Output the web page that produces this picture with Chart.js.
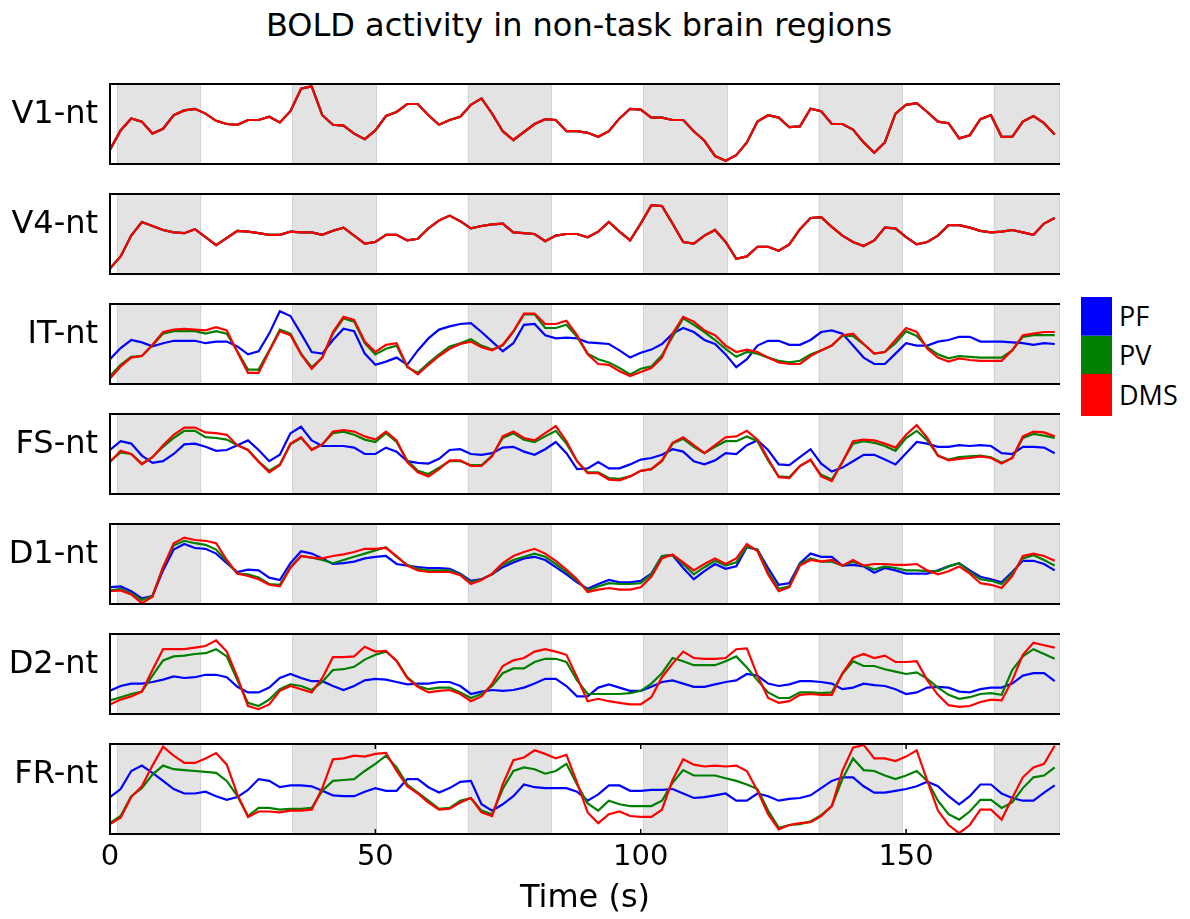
<!DOCTYPE html>
<html>
<head>
<meta charset="utf-8">
<script src="https://cdn.jsdelivr.net/npm/chart.js@4.4.1/dist/chart.umd.min.js"></script>
<style>
  body { margin: 0; background: #fff; }
  #fig { position: relative; width: 1190px; height: 919px; overflow: hidden; font-family: 'DejaVu Sans', sans-serif; color: #000; }
  #fig canvas { position: absolute; left: 0; }
  #title { position: absolute; left: 0; top: 9px; width: 1158px; text-align: center; font-size: 32px; line-height: 32px; }
  .key { position: absolute; left: 1081px; width: 31px; }
  .key-label { position: absolute; left: 1119px; font-family: 'Open Sans', sans-serif; font-size: 27px; }
</style>
</head>
<body>
<div id="fig">
  <div id="title">BOLD activity in non-task brain regions</div>
  <div class="key" style="top:297px;height:38px;background:#0000ff;border-bottom:1px solid #2a4fd0"></div>
  <div class="key" style="top:336px;height:37px;background:#008000;border-bottom:1px solid #1a6a1a"></div>
  <div class="key" style="top:374px;height:42px;background:#ff0000"></div>
  <div class="key-label" style="top:297px;line-height:38px">PF</div>
  <div class="key-label" style="top:336px;line-height:37px">PV</div>
  <div class="key-label" style="top:374px;line-height:42px">DMS</div>
</div>
<script>
// sample times (s), TR = 2 s
const time = [0,2,4,6,8,10,12,14,16,18,20,22,24,26,28,30,32,34,36,38,40,42,44,46,48,50,52,54,56,58,
  60,62,64,66,68,70,72,74,76,78,80,82,84,86,88,90,92,94,96,98,100,102,104,106,108,110,112,114,116,118,
  120,122,124,126,128,130,132,134,136,138,140,142,144,146,148,150,152,154,156,158,160,162,164,166,168,170,172,174,176,178];

// task blocks (shaded)
const bandStarts = [1.3, 34.3, 67.4, 100.4, 133.5, 166.5];
const bandEnds = [17.2, 50.3, 83.3, 116.4, 149.4, 179];

const xTicks = [0, 50, 100, 150];
const regionLabels = ['V1-nt', 'V4-nt', 'IT-nt', 'FS-nt', 'D1-nt', 'D2-nt', 'FR-nt'];
const seriesNames = ['PF', 'PV', 'DMS'];
const seriesColors = ['#0000ff', '#008000', '#ff0000'];

// BOLD traces, arbitrary units (0-100 per panel)
const v1Bold = [18,42,57,53,38,44,61,67,69,63, 54,50,49,55,55,59,52,66,94,97, 61,49,48,38,31,42,60,65,75,75,
  61,49,55,59,74,82,63,41,30,40, 50,56,55,41,41,39,34,41,57,69, 68,58,58,55,55,41,29,10,4,11,
  27,53,61,58,46,47,69,66,50,50, 43,27,14,27,63,74,76,65,53,51, 32,36,56,61,34,34,53,60,51,37];
const v4Bold = [7,22,48,65,60,55,52,51,56,46, 36,45,54,53,51,49,49,53,52,52, 49,54,58,48,38,40,49,49,42,44,
  57,67,73,66,57,60,62,63,52,51, 50,41,48,50,50,46,53,65,53,42, 63,86,85,63,40,38,48,55,40,19,
  22,34,34,29,37,56,70,71,59,48, 40,35,42,58,57,46,37,40,48,61, 61,58,54,52,53,55,52,49,63,70];

const itPf = [31,45,55,52,47,51,54,54,54,51, 53,53,47,37,41,63,91,85,63,40, 38,55,69,66,38,24,28,33,24,42,
  57,68,72,75,76,65,53,41,51,74, 75,61,57,58,57,52,51,50,42,33, 39,43,50,63,70,65,55,50,37,21,
  31,48,54,54,49,49,55,65,67,63, 48,33,25,25,38,51,48,48,53,55, 59,59,53,53,53,52,51,49,51,50];
const itPv = [10,24,34,35,48,63,66,66,66,63, 66,63,41,18,18,42,68,63,38,21, 33,63,82,78,51,37,44,48,21,14,
  26,37,47,51,56,48,43,48,65,87, 87,70,70,74,59,38,31,27,20,12, 19,22,36,59,82,74,65,55,44,34,
  40,38,33,29,27,29,37,42,48,60, 60,50,38,40,51,66,60,46,37,32, 35,34,33,33,33,42,59,61,61,61];
const itDms = [7,22,33,35,49,65,68,69,68,67, 71,67,40,14,14,41,66,61,37,19, 33,65,84,80,53,40,49,51,22,12,
  24,35,44,50,53,46,42,49,66,88, 88,75,75,79,61,37,25,24,16,10, 15,20,33,63,84,78,67,61,48,40,
  43,40,33,27,25,25,35,42,48,61, 63,50,38,40,55,70,65,44,33,28, 32,30,29,29,29,42,61,63,65,65];

const fsPf = [55,66,63,48,39,41,50,62,63,59, 54,55,61,67,55,41,49,76,84,67, 60,60,60,58,50,50,58,53,41,39,
  38,44,55,56,50,49,51,58,59,53, 49,56,65,51,31,32,40,32,32,37, 43,45,49,56,53,41,37,42,51,50,
  61,67,55,37,36,46,56,38,28,33, 41,49,49,43,37,51,65,63,59,59, 61,60,61,60,51,50,59,59,58,51];
const fsPv = [41,52,50,38,46,59,70,79,79,71, 70,68,61,55,41,29,37,62,70,56, 62,76,78,74,68,65,76,65,42,29,
  25,33,41,41,36,36,48,70,76,68, 65,72,79,63,41,27,27,20,19,22, 29,31,41,63,69,59,51,59,66,66,
  72,66,42,22,21,35,42,24,18,40, 63,66,64,60,54,70,79,67,48,43, 46,47,48,46,39,45,70,75,73,70];
const fsDms = [40,54,50,37,46,61,74,83,83,77, 76,74,61,55,40,27,36,63,71,55, 62,78,80,78,72,68,78,67,40,27,
  22,31,42,42,35,35,47,72,78,70, 67,76,85,66,41,26,26,18,17,22, 29,31,42,64,71,61,51,61,71,72,
  79,68,44,21,20,35,43,22,16,40, 66,68,67,63,58,74,86,70,48,42, 44,45,47,45,38,45,72,78,77,72];

const d1Pf = [21,22,16,7,10,42,68,75,70,69, 63,51,40,43,42,33,30,51,66,63, 57,50,51,53,57,59,60,50,48,46,
  45,45,44,38,29,31,37,46,52,57, 59,55,46,37,27,19,25,30,27,27, 29,38,60,61,45,31,41,50,44,47,
  71,68,45,24,26,51,63,59,59,48, 49,47,39,45,42,38,38,38,42,47, 51,42,34,31,27,40,54,54,50,42];
const d1Pv = [17,19,13,5,10,46,73,79,76,74, 68,53,38,37,33,25,24,46,60,58, 55,51,55,59,63,67,71,59,49,44,
  42,42,42,37,27,31,37,49,55,59, 63,59,50,40,29,17,22,26,25,25, 26,37,60,61,50,37,46,54,48,52,
  72,68,40,19,22,50,57,53,53,48, 53,48,43,47,45,42,42,41,41,47, 51,40,31,29,25,38,57,61,55,48];
const d1Dms = [16,17,12,1,9,46,76,83,80,79, 76,55,38,35,31,24,22,45,60,58, 57,60,62,65,69,69,70,60,48,42,
  40,40,40,36,25,30,38,51,60,65, 69,63,54,43,31,15,18,20,18,18, 21,34,57,62,52,42,50,57,50,57,
  75,66,37,16,21,48,55,53,55,48, 55,48,50,50,49,49,50,42,37,41, 47,38,26,24,20,35,60,63,60,54];

const d2Pf = [29,35,38,38,40,43,47,45,46,49, 49,46,34,27,27,33,45,50,45,41, 41,35,30,35,42,44,43,40,37,38,
  38,40,40,35,25,28,30,29,30,33, 38,44,44,35,22,22,33,37,33,29, 29,34,40,42,38,34,34,37,40,42,
  50,48,38,35,37,41,41,40,38,31, 33,38,36,35,31,25,27,33,34,33, 28,27,31,33,33,38,48,51,51,41];
const d2Pv = [17,21,25,28,48,67,72,73,75,76, 81,72,42,14,10,18,31,37,35,30, 40,55,56,59,68,74,78,67,46,35,
  31,33,33,27,20,25,35,51,57,57, 65,69,69,65,42,25,25,25,25,26, 29,38,51,70,66,61,61,61,66,72,
  58,42,27,20,20,27,27,26,27,50, 66,60,60,56,53,50,52,44,33,24, 19,21,25,26,24,55,72,81,75,69];
const d2Dms = [12,18,22,28,55,81,81,81,83,85, 92,78,46,10,6,12,29,35,31,27, 45,71,71,72,84,78,79,66,45,34,
  27,29,30,25,16,22,38,60,67,70, 78,81,78,74,46,16,19,16,14,12, 12,21,46,63,78,70,69,69,70,81,
  82,48,20,14,16,24,25,24,24,51, 70,75,70,73,65,65,66,42,24,11, 9,10,15,18,17,42,74,89,86,83];

const frPf = [41,50,70,76,68,59,50,45,45,47, 42,38,41,49,61,59,52,54,54,53, 48,43,42,42,47,51,48,48,61,61,
  52,46,51,58,59,33,26,33,42,55, 52,51,51,51,47,37,44,54,54,48, 48,49,49,50,45,40,41,43,45,37,
  37,45,42,37,39,40,43,51,59,63, 63,53,46,46,48,50,53,58,53,42, 33,42,55,55,45,40,37,37,46,54];
const frPv = [12,20,42,51,66,76,72,71,70,69, 68,59,42,20,29,29,27,28,28,29, 48,59,60,61,70,78,87,74,55,46,
  37,28,29,37,40,26,22,50,70,74, 72,67,70,78,55,34,26,37,33,31, 31,31,37,57,71,65,65,65,62,59,
  55,50,26,7,10,11,14,21,31,61, 84,71,70,65,61,65,70,59,37,22, 16,25,38,38,29,35,51,63,65,74];
const frDms = [11,18,41,53,76,97,87,79,79,84, 90,77,44,19,25,25,24,26,26,27, 51,83,84,87,86,89,90,70,53,45,
  35,27,28,35,40,24,20,55,82,85, 93,89,84,88,57,24,12,22,25,20, 19,19,27,60,83,77,75,76,75,76,
  70,48,22,5,10,12,13,20,31,70, 96,99,84,84,81,86,93,59,26,10, 1,10,27,27,16,40,63,74,78,98];

// PF, PV, DMS per region
const panelData = [
  [v1Bold, v1Bold, v1Bold],
  [v4Bold, v4Bold, v4Bold],
  [itPf, itPv, itDms],
  [fsPf, fsPv, fsDms],
  [d1Pf, d1Pv, d1Dms],
  [d2Pf, d2Pv, d2Dms],
  [frPf, frPv, frDms]
];

const panelTops = [84, 194, 304, 414, 524, 634, 744];
const panelHeight = 90;
const pad = 10;

// shaded blocks under the traces, frame + region name on top
const decor = {
  id: 'decor',
  beforeDatasetsDraw(chart) {
    const { ctx, chartArea: a, scales: { x } } = chart;
    ctx.save();
    ctx.beginPath();
    ctx.rect(a.left, a.top, a.right - a.left, a.bottom - a.top);
    ctx.clip();
    bandStarts.forEach((s, i) => {
      const x0 = x.getPixelForValue(s);
      const x1 = x.getPixelForValue(bandEnds[i]);
      ctx.fillStyle = '#e3e3e3';
      ctx.fillRect(x0, a.top, x1 - x0, a.bottom - a.top);
      ctx.strokeStyle = '#d3d3d3';
      ctx.lineWidth = 1;
      ctx.beginPath();
      ctx.moveTo(Math.round(x0) + 0.5, a.top); ctx.lineTo(Math.round(x0) + 0.5, a.bottom);
      ctx.moveTo(Math.round(x1) - 0.5, a.top); ctx.lineTo(Math.round(x1) - 0.5, a.bottom);
      ctx.stroke();
    });
    ctx.restore();
  },
  afterDatasetsDraw(chart, args, opts) {
    const { ctx, chartArea: a, scales: { x } } = chart;
    ctx.save();
    ctx.strokeStyle = '#000';
    ctx.lineWidth = 2;
    ctx.beginPath();
    ctx.moveTo(a.right, a.top); ctx.lineTo(a.left, a.top); ctx.lineTo(a.left, a.bottom); ctx.lineTo(a.right, a.bottom);
    ctx.stroke();
    if (opts.ticks) {
      ctx.lineWidth = 1.5;
      ctx.beginPath();
      xTicks.forEach(v => {
        const px = x.getPixelForValue(v);
        ctx.moveTo(px, a.top); ctx.lineTo(px, a.top + 5);
        ctx.moveTo(px, a.bottom); ctx.lineTo(px, a.bottom - 5);
      });
      ctx.stroke();
    }
    ctx.fillStyle = '#000';
    ctx.font = '32px "DejaVu Sans"';
    ctx.textAlign = 'right';
    ctx.textBaseline = 'alphabetic';
    ctx.fillText(opts.label, a.left - 12, a.top + 39);
    ctx.restore();
  }
};

const fig = document.getElementById('fig');

function makePanel(i) {
  const last = i === panelTops.length - 1;
  const top = panelTops[i] - pad;
  const cv = document.createElement('canvas');
  cv.width = 1190;
  cv.height = last ? 919 - top : panelHeight + 2 * pad;
  cv.style.top = top + 'px';
  fig.appendChild(cv);

  return new Chart(cv, {
    type: 'line',
    data: {
      labels: time,
      datasets: seriesNames.map((name, j) => ({
        label: name,
        data: panelData[i][j],
        borderColor: seriesColors[j],
        borderWidth: 2.2,
        pointRadius: 0,
        tension: 0,
        order: 2 - j
      }))
    },
    options: {
      responsive: false,
      animation: false,
      events: [],
      layout: { padding: { left: 110, right: 130, top: pad, bottom: last ? 0 : pad } },
      plugins: {
        legend: { display: false },
        tooltip: { enabled: false },
        decor: { label: regionLabels[i], ticks: last }
      },
      scales: {
        x: {
          type: 'linear', min: 0, max: 179, display: last,
          grid: { display: false, drawTicks: false },
          border: { display: false },
          ticks: { color: '#000', font: { family: 'DejaVu Sans', size: 29 }, padding: 6, maxRotation: 0 },
          title: { display: true, text: 'Time (s)', color: '#000', font: { family: 'DejaVu Sans', size: 32 }, padding: { top: 0, bottom: 1 } },
          afterBuildTicks: s => { s.ticks = xTicks.map(v => ({ value: v })); },
          afterFit: s => { s.height = cv.height - pad - panelHeight; }
        },
        y: { min: 0, max: 100, display: false }
      }
    },
    plugins: [decor]
  });
}

regionLabels.forEach((_, i) => makePanel(i));
</script>
</body>
</html>
